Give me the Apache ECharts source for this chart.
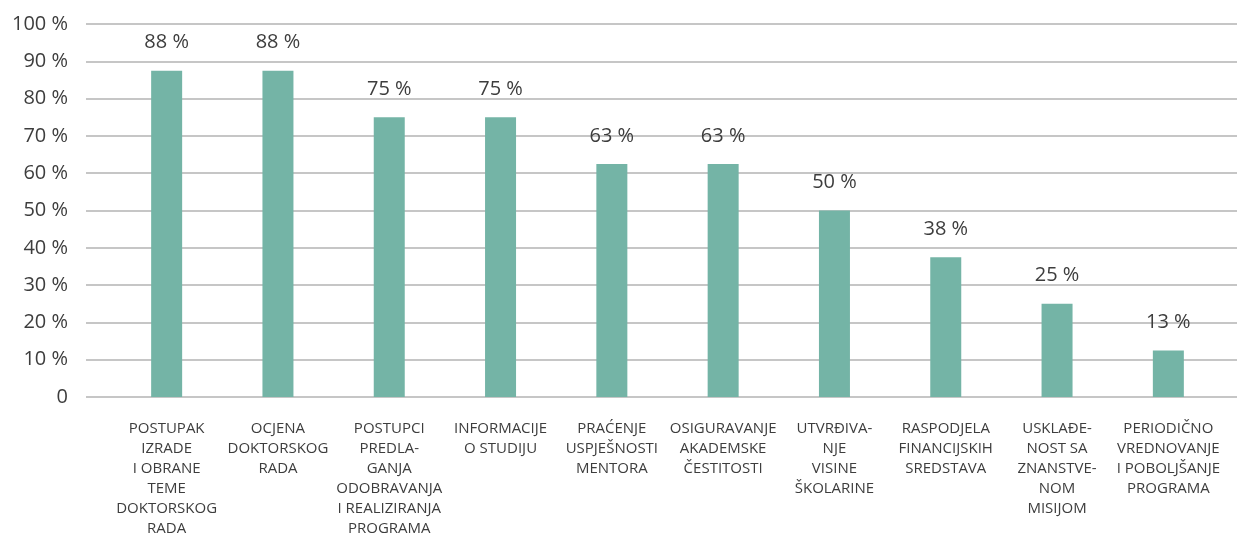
<!DOCTYPE html>
<html>
<head>
<meta charset="utf-8">
<script src="https://cdn.jsdelivr.net/npm/echarts@6/dist/echarts.min.js"></script>
<style>
  html, body { margin: 0; padding: 0; background: #fff; }
  #chart { width: 1237px; height: 536px; }
</style>
</head>
<body>
<div id="chart"></div>
<script>
const categories = [
  'POSTUPAK\nIZRADE\nI OBRANE\nTEME\nDOKTORSKOG\nRADA',
  'OCJENA\nDOKTORSKOG\nRADA',
  'POSTUPCI\nPREDLA-\nGANJA\nODOBRAVANJA\nI REALIZIRANJA\nPROGRAMA',
  'INFORMACIJE\nO STUDIJU',
  'PRAĆENJE\nUSPJEŠNOSTI\nMENTORA',
  'OSIGURAVANJE\nAKADEMSKE\nČESTITOSTI',
  'UTVRĐIVA-\nNJE\nVISINE\nŠKOLARINE',
  'RASPODJELA\nFINANCIJSKIH\nSREDSTAVA',
  'USKLAĐE-\nNOST SA\nZNANSTVE-\nNOM\nMISIJOM',
  'PERIODIČNO\nVREDNOVANJE\nI POBOLJŠANJE\nPROGRAMA'
]
const values = [87.5, 87.5, 75, 75, 62.5, 62.5, 50, 37.5, 25, 12.5]
const yTicks = [0, 10, 20, 30, 40, 50, 60, 70, 80, 90, 100]

const font = '"Open Sans", "DejaVu Sans", sans-serif'
const textColor = '#3d3d3d'

const chart = echarts.init(document.getElementById('chart'))
chart.setOption({
  animation: false,
  grid: [
    { left: 86, right: 0, top: 24, bottom: 139, outerBoundsMode: 'none' },
    { left: 111, right: 13, top: 24, bottom: 139, outerBoundsMode: 'none' }
  ],
  xAxis: [
    { gridIndex: 0, type: 'value', show: false, min: 0, max: 1 },
    {
      gridIndex: 1,
      type: 'category',
      data: categories,
      axisTick: { show: false },
      axisLine: { show: false },
      axisLabel: {
        interval: 0,
        margin: 22,
        color: textColor,
        fontFamily: font,
        fontSize: 15,
        lineHeight: 20
      }
    }
  ],
  yAxis: [
    {
      gridIndex: 0,
      type: 'value',
      min: yTicks[0],
      max: yTicks[yTicks.length - 1],
      interval: 10,
      axisLine: { show: false },
      axisTick: { show: false },
      axisLabel: {
        margin: 18,
        color: textColor,
        fontFamily: font,
        fontSize: 20,
        formatter: v => (v === 0 ? '0' : v + ' %')
      },
      splitLine: { lineStyle: { color: '#b3b3b3', width: 1.5 } }
    },
    {
      gridIndex: 1,
      type: 'value',
      min: yTicks[0],
      max: yTicks[yTicks.length - 1],
      show: false
    }
  ],
  series: [
    {
      type: 'bar',
      xAxisIndex: 1,
      yAxisIndex: 1,
      data: values,
      barWidth: 31,
      itemStyle: { color: '#74b4a6' },
      label: {
        show: true,
        position: 'top',
        distance: 18,
        color: textColor,
        fontFamily: font,
        fontSize: 20,
        formatter: p => Math.round(p.value) + ' %'
      }
    }
  ]
})
</script>
</body>
</html>
